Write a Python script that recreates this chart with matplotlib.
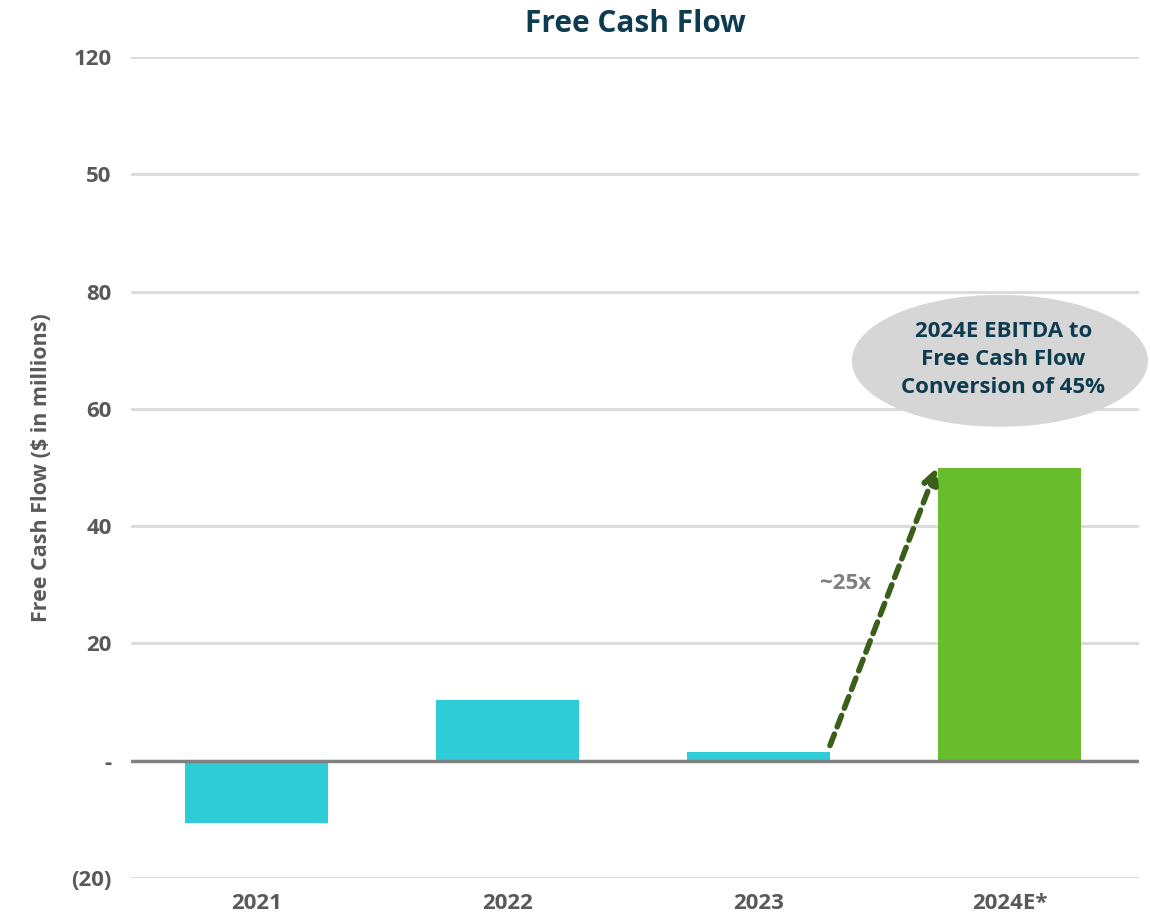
import matplotlib.pyplot as plt
from matplotlib.patches import Ellipse

plt.rcParams["font.family"] = ["Open Sans", "DejaVu Sans"]
plt.rcParams["font.weight"] = "bold"

years = ["2021", "2022", "2023", "2024E*"]
fcf_values = [-10.6, 10.4, 1.5, 50.0]
bar_colors = ["#2ECCD6", "#2ECCD6", "#2ECCD6", "#69BC2C"]
y_ticks = [-20, 0, 20, 40, 60, 80, 100, 120]
y_tick_labels = ["(20)", "-", "20", "40", "60", "80", "50", "120"]

GRAY_TEXT = "#595959"
NAVY = "#0D3B4F"


def main() -> None:
    fig = plt.figure(figsize=(11.5, 9.17), dpi=100)
    ax = fig.add_axes([0.1139, 0.0425, 0.8765, 0.8953])

    x = range(len(years))
    ax.bar(x, fcf_values, width=0.57, color=bar_colors, zorder=3)

    ax.set_xlim(-0.5, 3.516)
    ax.set_ylim(-20, 120)
    ax.set_yticks(y_ticks)
    ax.set_yticklabels(y_tick_labels)
    ax.set_xticks(list(x))
    ax.set_xticklabels(years)
    ax.tick_params(axis="both", length=0, labelsize=16, labelcolor=GRAY_TEXT)
    ax.tick_params(axis="y", pad=14)
    ax.tick_params(axis="x", pad=11)
    for lbl in ax.get_xticklabels() + ax.get_yticklabels():
        lbl.set_fontweight("bold")

    for spine in ax.spines.values():
        spine.set_visible(False)
    ax.grid(axis="y", color="#D9D9D9", linewidth=2, zorder=0)
    ax.axhline(0, color="#808080", linewidth=2.5, zorder=4)

    ax.set_ylabel("Free Cash Flow ($ in millions)", fontsize=15.5, color=GRAY_TEXT,
                  fontweight="bold", labelpad=14)
    ax.set_title("Free Cash Flow", fontsize=21.5, color=NAVY, fontweight="bold", pad=18)

    # growth arrow 2023 -> 2024E
    ax.annotate(
        "",
        xy=(2.711, 50.0),
        xytext=(2.285, 2.6),
        arrowprops=dict(arrowstyle="-|>,head_length=0.9,head_width=0.45",
                        color="#3A5F18", linewidth=4, linestyle=(0, (2.2, 1.4)),
                        shrinkA=0, shrinkB=0),
        zorder=5,
    )
    ax.text(2.245, 30.3, "~25x", fontsize=16, color="#7F7F7F", fontweight="bold",
            ha="left", va="center", zorder=5)

    ell = Ellipse((2.962, 68.2), width=1.18, height=22.5, facecolor="#D6D6D6",
                  edgecolor="none", clip_on=False, zorder=6)
    ax.add_patch(ell)
    ax.text(2.975, 68.4, "2024E EBITDA to\nFree Cash Flow\nConversion of 45%",
            fontsize=16, color=NAVY, fontweight="bold", ha="center", va="center",
            linespacing=1.45, zorder=7)

    fig.savefig("out.png", dpi=100)


if __name__ == "__main__":
    main()
